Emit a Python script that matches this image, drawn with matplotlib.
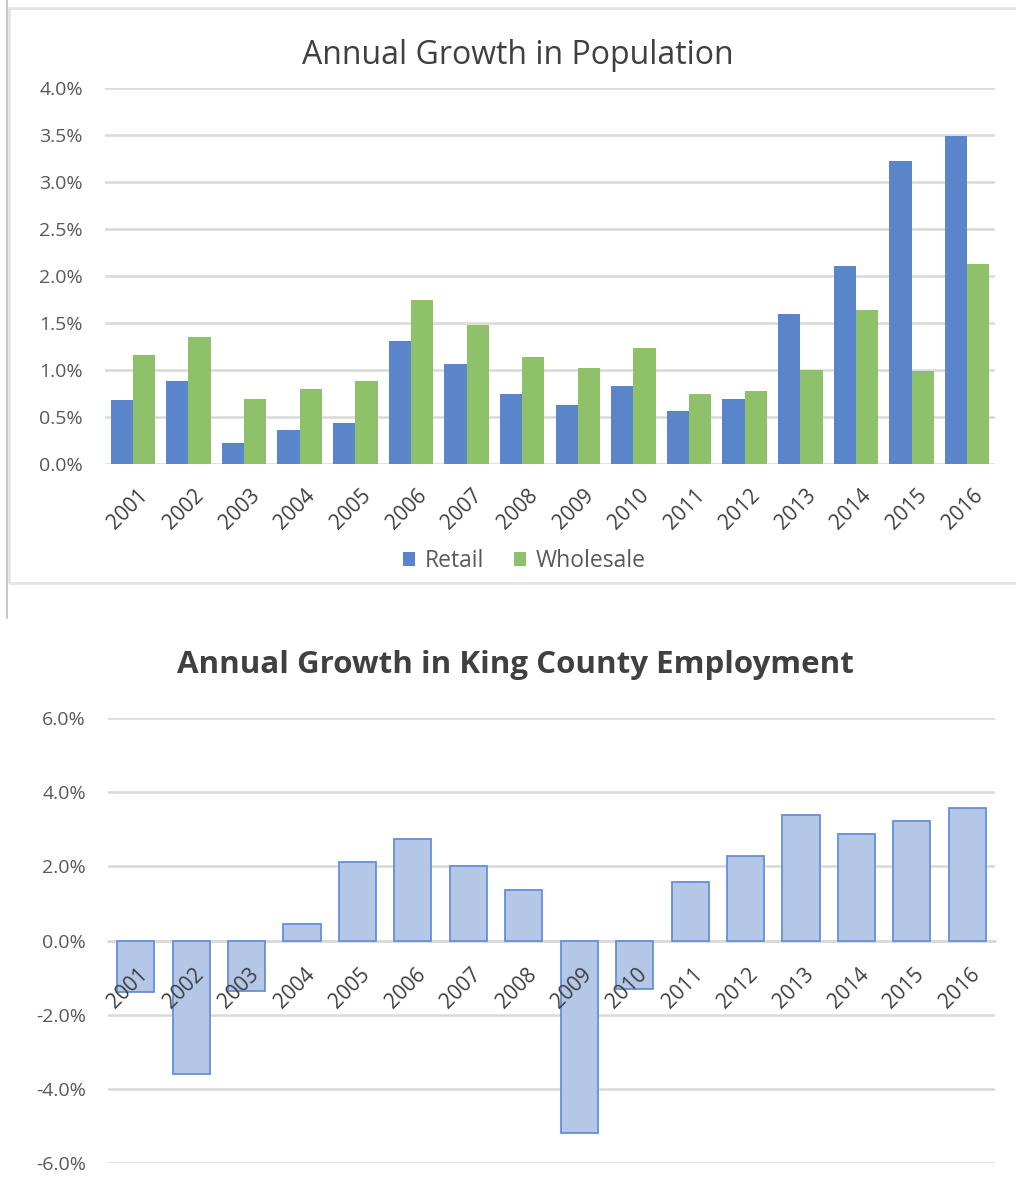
"""
Two Excel-style column charts: population growth (retail vs wholesale)
and King County employment growth.
"""

import numpy as np
import matplotlib
matplotlib.use("Agg")
import matplotlib.pyplot as plt
import matplotlib.transforms as mtransforms
from matplotlib.patches import Rectangle
from matplotlib.lines import Line2D
from matplotlib.ticker import FuncFormatter, MultipleLocator

# ----------------------------------------------------------------
# DATA
# ----------------------------------------------------------------
years = [str(y) for y in range(2001, 2017)]

retail = [0.68, 0.88, 0.22, 0.36, 0.44, 1.31, 1.06, 0.74,
          0.63, 0.83, 0.56, 0.69, 1.60, 2.11, 3.22, 3.49]
wholesale = [1.16, 1.35, 0.69, 0.80, 0.88, 1.75, 1.48, 1.14,
             1.02, 1.23, 0.74, 0.78, 1.00, 1.64, 0.99, 2.13]

employment = [-1.40, -3.59, -1.37, 0.44, 2.11, 2.74, 2.02, 1.37,
              -5.18, -1.32, 1.59, 2.27, 3.38, 2.87, 3.22, 3.56]

# ----------------------------------------------------------------
# STYLE
# ----------------------------------------------------------------
plt.rcParams["font.family"] = ["Open Sans", "DejaVu Sans"]

BLUE = "#5B85CA"
GREEN = "#8EC16A"
LIGHT_BLUE = "#B4C7E7"
EDGE_BLUE = "#6590D8"
GRID = "#D9D9D9"
TICK_TXT = "#595959"
TITLE_TXT = "#404040"

W, H = 1016, 1194
fig = plt.figure(figsize=(W / 100, H / 100), dpi=100)


def fx(px):
    return px / W


def fy(py):
    return 1 - py / H


pct = FuncFormatter(lambda v, _: f"{v:.1f}%")


def _style_axes(ax):
    for s in ax.spines.values():
        s.set_visible(False)
    ax.grid(axis="y", color=GRID, linewidth=1.8)
    ax.yaxis.set_zorder(0.5)
    ax.xaxis.set_zorder(3)
    ax.tick_params(axis="both", length=0)
    ax.tick_params(axis="y", colors=TICK_TXT, pad=16, labelsize=14)
    ax.yaxis.set_major_formatter(pct)


def _year_labels(ax, pad, dx=5):
    ax.set_xticks(np.arange(len(years)))
    ax.set_xticklabels(years, rotation=45, ha="right", rotation_mode="anchor")
    ax.tick_params(axis="x", pad=pad, colors=TITLE_TXT, labelsize=15)
    shift = mtransforms.ScaledTranslation(dx / 100, 0, fig.dpi_scale_trans)
    for lbl in ax.get_xticklabels():
        lbl.set_transform(lbl.get_transform() + shift)


# ----------------------------------------------------------------
# TOP CHART: frame
# ----------------------------------------------------------------
fig.add_artist(Rectangle((fx(9), fy(583)), fx(W + 10), fy(8) - fy(583),
                         transform=fig.transFigure, fill=False,
                         edgecolor="#E4E4E4", linewidth=2.0))
fig.add_artist(Line2D([fx(7), fx(7)], [fy(0), fy(618)],
                      transform=fig.transFigure, color="#BDBDBD", linewidth=1.2))

ax1 = fig.add_axes([fx(105), fy(464), fx(995) - fx(105), fy(88) - fy(464)])
x = np.arange(len(years))
bw = 0.4
ax1.bar(x - bw / 2, retail, bw, color=BLUE, label="Retail")
ax1.bar(x + bw / 2, wholesale, bw, color=GREEN, label="Wholesale")
ax1.set_xlim(-0.5, len(years) - 0.5)
ax1.set_ylim(0, 4.0)
ax1.yaxis.set_major_locator(MultipleLocator(0.5))
_style_axes(ax1)
_year_labels(ax1, 15)
fig.text(fx(518), fy(55), "Annual Growth in Population", fontsize=23,
         color=TITLE_TXT, ha="center", va="center")
ax1.legend(loc="center", bbox_to_anchor=((524 - 105) / 890, -(561 - 464) / 376),
           ncol=2, frameon=False, fontsize=16.5, labelcolor=TICK_TXT,
           handlelength=0.55, handleheight=0.55, handletextpad=0.4,
           columnspacing=1.3)

# ----------------------------------------------------------------
# BOTTOM CHART
# ----------------------------------------------------------------
ax2 = fig.add_axes([fx(108), fy(1163), fx(995) - fx(108), fy(718) - fy(1163)])
ax2.bar(x, employment, 0.67, color=LIGHT_BLUE, edgecolor=EDGE_BLUE, linewidth=1.3)
ax2.set_xlim(-0.5, len(years) - 0.5)
ax2.set_ylim(-6.0, 6.0)
ax2.yaxis.set_major_locator(MultipleLocator(2.0))
_style_axes(ax2)
ax2.spines["bottom"].set_visible(True)
ax2.spines["bottom"].set_position(("data", 0))
ax2.spines["bottom"].set_color(GRID)
ax2.spines["bottom"].set_linewidth(1.8)
ax2.spines["bottom"].set_zorder(0.5)
_year_labels(ax2, 17, dx=2)
fig.text(fx(515), fy(665), "Annual Growth in King County Employment", fontsize=22.5,
         fontweight="bold", color=TITLE_TXT, ha="center", va="center")

fig.savefig("out.png", dpi=100)
